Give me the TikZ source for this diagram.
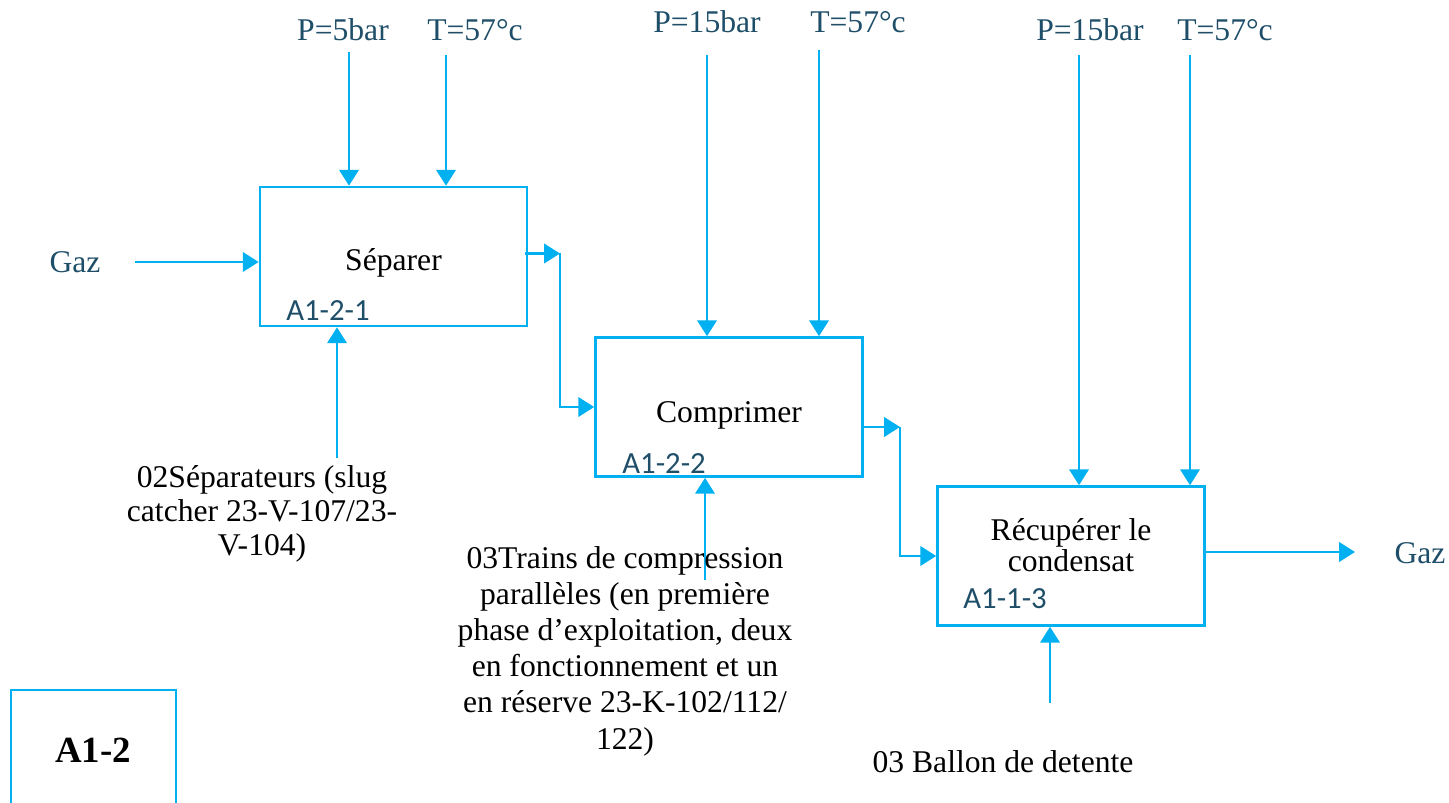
\documentclass[tikz,border=0pt]{standalone}
\usepackage{fontspec}
\setmainfont{Liberation Serif}
\newfontfamily\idfont{Carlito}
\usetikzlibrary{arrows.meta,positioning,calc}
\definecolor{lineblue}{RGB}{0,176,240}
\definecolor{labelteal}{RGB}{31,78,105}

\begin{document}
\begin{tikzpicture}[x=0.02cm,y=-0.02cm,
    every node/.style={font=\fontsize{18}{21}\selectfont},
    box/.style={draw=lineblue,line width=1.5pt,minimum width=5.34cm,
      minimum height=2.78cm,align=center},
    idlabel/.style={font=\idfont\fontsize{17.5}{20}\selectfont,
      text=labelteal,anchor=base west,inner sep=0pt},
    param/.style={text=labelteal},
    flow/.style={draw=lineblue,line width=1.4pt,
      -{Triangle[length=9pt,width=11pt]}}]
  \useasboundingbox (0,0) rectangle (1449,803);

  % boxes
  \node[box] (sep) at (393.5,256.5) {\raisebox{-8pt}[0pt][0pt]{S\'eparer}};
  \node[box] (comp) at (729,407) {\raisebox{-9pt}[0pt][0pt]{Comprimer}};
  \node[box,font=\fontsize{18}{17.5}\selectfont] (rec) at (1071,556)
    {R\'ecup\'erer le\\condensat\\[-5pt]};
  \node[idlabel] (sepid) at (286,321) {A1-2-1};
  \node[idlabel] (compid) at (622,473) {A1-2-2};
  \node[idlabel] (recid) at (963,608) {A1-1-3};

  % parameters on top
  \node[param] (p1) at (343,30) {P=5bar};
  \node[param] (t1) at (475,30) {T=57°c};
  \node[param] (p2) at (707,22) {P=15bar};
  \node[param] (t2) at (858,22) {T=57°c};
  \node[param] (p3) at (1090,30) {P=15bar};
  \node[param] (t3) at (1225,30) {T=57°c};
  \coordinate (p1s) at (349,52);
  \coordinate (t1s) at (446,55);
  \coordinate (p2s) at (707,55);
  \coordinate (t2s) at (819,50);
  \coordinate (p3s) at (1079,55);
  \coordinate (t3s) at (1190,55);
  \draw[flow] (p1s) -- (p1s |- sep.north);
  \draw[flow] (t1s) -- (t1s |- sep.north);
  \draw[flow] (p2s) -- (p2s |- comp.north);
  \draw[flow] (t2s) -- (t2s |- comp.north);
  \draw[flow] (p3s) -- (p3s |- rec.north);
  \draw[flow] (t3s) -- (t3s |- rec.north);

  % gas in and out
  \node[param] (gazin) at (75,262) {Gaz};
  \coordinate (gin) at (135,262);
  \draw[flow] (gin) -- (gin -| sep.west);
  \node[param] (gazout) at (1420,553) {Gaz};
  \coordinate (j3) at ($(rec.east)+(0,-4)$);
  \coordinate (gout) at (1355,552);
  \draw[flow] (j3) -- (gout);

  % links between boxes
  \coordinate (x1) at (560,0);
  \coordinate (x2) at (900,0);
  \coordinate (j1) at ($(sep.east)+(-3,-3)$);
  \coordinate (k1) at (j1 -| x1);
  \draw[flow] (j1) -- (k1);
  \draw[flow] (k1) |- (comp.west);
  \coordinate (j2) at ($(comp.east)+(0,20)$);
  \coordinate (k2) at (j2 -| x2);
  \draw[flow] (j2) -- (k2);
  \draw[flow] (k2) |- (rec.west);

  % mechanisms
  \coordinate (m1) at (337,458);
  \coordinate (m2) at (705,580);
  \coordinate (m3) at (1050,703);
  \draw[flow] (m1) -- (m1 |- sep.south);
  \draw[flow] (m2) -- (m2 |- comp.south);
  \draw[flow] (m3) -- (m3 |- rec.south);
  \node[align=center,font=\fontsize{18}{19.3}\selectfont] (sepdesc) at (262,514)
    {02S\'eparateurs (slug\\catcher 23-V-107/23-\\V-104)};
  \node[align=center,font=\fontsize{18}{20.6}\selectfont] (trains) at (625,651)
    {03Trains de compression\\parall\`eles (en premi\`ere\\phase d’exploitation, deux\\
     en fonctionnement et un\\en r\'eserve 23-K-102/112/\\122)};
  \node (ballon) at (1003,762) {03 Ballon de detente};

  % diagram number
  \draw[lineblue,line width=1.5pt] (11,803) |- (176,690) -- (176,803);
  \node[font=\bfseries\fontsize{21}{24}\selectfont] (num) at (93,750) {A1-2};
\end{tikzpicture}
\end{document}
